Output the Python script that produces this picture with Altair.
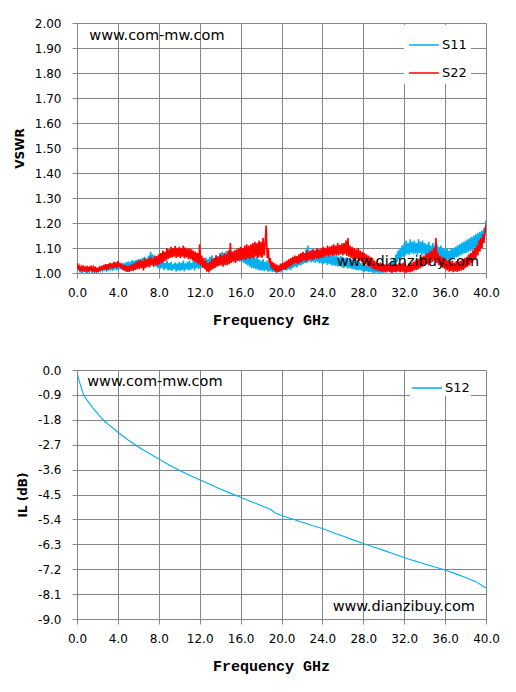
import altair as alt
import pandas as pd

# ---------------- data ----------------
x_ticks = [0, 4, 8, 12, 16, 20, 24, 28, 32, 36, 40]
vswr_ticks = [1.0, 1.1, 1.2, 1.3, 1.4, 1.5, 1.6, 1.7, 1.8, 1.9, 2.0]
il_ticks = [0.0, -0.9, -1.8, -2.7, -3.6, -4.5, -5.4, -6.3, -7.2, -8.1, -9.0]

# sweep points every 0.1 GHz, 0 .. 40 GHz
vswr_freq = [round(i * 0.1, 1) for i in range(401)]

s11 = [
    1.05, 1.01, 1.02, 1.005, 1.015, 1.00, 1.02, 1.01, 1.005, 1.018,
    1.00, 1.015, 1.005, 1.02, 1.01, 1.00, 1.018, 1.008, 1.012, 1.003,
    1.015, 1.005, 1.022, 1.01, 1.025, 1.008, 1.018, 1.012, 1.026, 1.01,
    1.02, 1.012, 1.03, 1.015, 1.025, 1.01, 1.03, 1.018, 1.028, 1.012,
    1.035, 1.015, 1.03, 1.02, 1.04, 1.018, 1.035, 1.025, 1.042, 1.02,
    1.045, 1.022, 1.04, 1.028, 1.05, 1.025, 1.048, 1.03, 1.052, 1.024,
    1.055, 1.03, 1.05, 1.035, 1.06, 1.028, 1.065, 1.04, 1.058, 1.032,
    1.07, 1.035, 1.085, 1.04, 1.075, 1.03, 1.065, 1.025, 1.06, 1.02,
    1.05, 1.015, 1.045, 1.02, 1.055, 1.012, 1.04, 1.018, 1.05, 1.01,
    1.04, 1.012, 1.045, 1.008, 1.035, 1.015, 1.042, 1.005, 1.038, 1.01,
    1.045, 1.008, 1.04, 1.012, 1.05, 1.006, 1.038, 1.015, 1.045, 1.01,
    1.05, 1.012, 1.04, 1.018, 1.055, 1.01, 1.045, 1.02, 1.05, 1.015,
    1.055, 1.02, 1.06, 1.025, 1.05, 1.022, 1.062, 1.028, 1.055, 1.025,
    1.065, 1.03, 1.07, 1.035, 1.06, 1.032, 1.072, 1.04, 1.068, 1.036,
    1.08, 1.04, 1.085, 1.045, 1.075, 1.042, 1.088, 1.05, 1.08, 1.045,
    1.09, 1.048, 1.085, 1.05, 1.092, 1.045, 1.08, 1.052, 1.09, 1.046,
    1.085, 1.045, 1.09, 1.04, 1.08, 1.035, 1.075, 1.03, 1.07, 1.025,
    1.065, 1.02, 1.07, 1.018, 1.06, 1.015, 1.065, 1.012, 1.055, 1.01,
    1.05, 1.01, 1.055, 1.008, 1.045, 1.012, 1.05, 1.005, 1.04, 1.008,
    1.035, 1.003, 1.03, 1.006, 1.025, 1.00, 1.03, 1.005, 1.022, 1.002,
    1.03, 1.008, 1.035, 1.012, 1.04, 1.01, 1.038, 1.015, 1.045, 1.012,
    1.05, 1.02, 1.055, 1.025, 1.06, 1.022, 1.065, 1.03, 1.07, 1.03,
    1.075, 1.035, 1.08, 1.04, 1.095, 1.04, 1.11, 1.045, 1.09, 1.042,
    1.095, 1.045, 1.09, 1.04, 1.10, 1.045, 1.085, 1.038, 1.092, 1.04,
    1.08, 1.035, 1.085, 1.04, 1.075, 1.032, 1.08, 1.036, 1.07, 1.03,
    1.075, 1.03, 1.07, 1.028, 1.072, 1.025, 1.065, 1.03, 1.068, 1.022,
    1.065, 1.02, 1.06, 1.025, 1.062, 1.018, 1.058, 1.02, 1.055, 1.015,
    1.055, 1.015, 1.05, 1.012, 1.052, 1.01, 1.045, 1.012, 1.04, 1.008,
    1.035, 1.005, 1.03, 1.008, 1.032, 1.004, 1.028, 1.006, 1.025, 1.002,
    1.022, 1.00, 1.025, 1.003, 1.02, 1.00, 1.024, 1.002, 1.018, 1.00,
    1.025, 1.003, 1.03, 1.008, 1.035, 1.01, 1.04, 1.015, 1.05, 1.02,
    1.06, 1.03, 1.075, 1.045, 1.09, 1.055, 1.10, 1.06, 1.11, 1.065,
    1.12, 1.07, 1.13, 1.075, 1.12, 1.072, 1.135, 1.08, 1.125, 1.075,
    1.13, 1.078, 1.12, 1.072, 1.135, 1.08, 1.125, 1.07, 1.13, 1.075,
    1.12, 1.07, 1.115, 1.065, 1.125, 1.07, 1.11, 1.068, 1.12, 1.065,
    1.11, 1.062, 1.115, 1.06, 1.105, 1.058, 1.11, 1.055, 1.10, 1.052,
    1.095, 1.05, 1.10, 1.048, 1.09, 1.052, 1.098, 1.055, 1.10, 1.058,
    1.105, 1.062, 1.11, 1.065, 1.115, 1.07, 1.12, 1.075, 1.125, 1.078,
    1.13, 1.08, 1.135, 1.085, 1.14, 1.088, 1.145, 1.09, 1.15, 1.095,
    1.155, 1.10, 1.16, 1.105, 1.165, 1.11, 1.17, 1.12, 1.18, 1.15,
    1.21,
]

s22 = [
    1.04, 1.015, 1.028, 1.008, 1.025, 1.012, 1.03, 1.006, 1.022, 1.01,
    1.028, 1.005, 1.025, 1.01, 1.03, 1.004, 1.022, 1.008, 1.026, 1.003,
    1.02, 1.005, 1.025, 1.01, 1.028, 1.012, 1.032, 1.015, 1.035, 1.012,
    1.035, 1.015, 1.04, 1.02, 1.038, 1.018, 1.045, 1.022, 1.042, 1.02,
    1.048, 1.025, 1.04, 1.018, 1.035, 1.012, 1.032, 1.008, 1.03, 1.005,
    1.028, 1.005, 1.03, 1.01, 1.035, 1.008, 1.04, 1.012, 1.045, 1.015,
    1.05, 1.015, 1.055, 1.02, 1.048, 1.01, 1.06, 1.02, 1.055, 1.025,
    1.06, 1.022, 1.065, 1.03, 1.058, 1.025, 1.07, 1.032, 1.068, 1.03,
    1.075, 1.035, 1.08, 1.04, 1.09, 1.045, 1.085, 1.05, 1.10, 1.055,
    1.095, 1.06, 1.105, 1.062, 1.10, 1.065, 1.108, 1.06, 1.10, 1.065,
    1.105, 1.06, 1.10, 1.065, 1.11, 1.058, 1.102, 1.062, 1.098, 1.055,
    1.10, 1.055, 1.095, 1.05, 1.09, 1.045, 1.085, 1.04, 1.08, 1.035,
    1.115, 1.03, 1.07, 1.02, 1.06, 1.015, 1.05, 1.005, 1.04, 1.002,
    1.045, 1.01, 1.055, 1.015, 1.06, 1.02, 1.07, 1.025, 1.065, 1.028,
    1.075, 1.03, 1.07, 1.025, 1.08, 1.032, 1.075, 1.03, 1.09, 1.035,
    1.12, 1.04, 1.085, 1.045, 1.09, 1.04, 1.095, 1.048, 1.10, 1.05,
    1.105, 1.05, 1.10, 1.055, 1.11, 1.052, 1.115, 1.06, 1.11, 1.055,
    1.115, 1.06, 1.12, 1.058, 1.125, 1.065, 1.12, 1.06, 1.13, 1.065,
    1.125, 1.06, 1.14, 1.07, 1.12, 1.19, 1.06, 1.10, 1.04, 1.06,
    1.02, 1.045, 1.012, 1.04, 1.005, 1.035, 1.002, 1.03, 1.006, 1.038,
    1.01, 1.04, 1.015, 1.045, 1.012, 1.05, 1.02, 1.055, 1.025, 1.06,
    1.03, 1.065, 1.035, 1.07, 1.04, 1.068, 1.035, 1.075, 1.04, 1.08,
    1.045, 1.085, 1.05, 1.08, 1.045, 1.09, 1.05, 1.085, 1.055, 1.09,
    1.05, 1.095, 1.055, 1.09, 1.06, 1.10, 1.055, 1.095, 1.06, 1.10,
    1.06, 1.105, 1.065, 1.10, 1.07, 1.11, 1.065, 1.105, 1.07, 1.11,
    1.068, 1.115, 1.07, 1.11, 1.072, 1.12, 1.07, 1.112, 1.075, 1.118,
    1.07, 1.12, 1.075, 1.13, 1.068, 1.14, 1.065, 1.11, 1.06, 1.105,
    1.055, 1.10, 1.05, 1.095, 1.055, 1.10, 1.048, 1.09, 1.045, 1.085,
    1.04, 1.08, 1.035, 1.075, 1.03, 1.07, 1.025, 1.065, 1.02, 1.06,
    1.015, 1.05, 1.012, 1.045, 1.01, 1.04, 1.008, 1.042, 1.005, 1.038,
    1.005, 1.035, 1.002, 1.03, 1.006, 1.038, 1.003, 1.032, 1.00, 1.035,
    1.004, 1.04, 1.002, 1.035, 1.006, 1.04, 1.003, 1.038, 1.005, 1.042,
    1.002, 1.035, 1.00, 1.03, 1.004, 1.038, 1.002, 1.04, 1.006, 1.045,
    1.01, 1.05, 1.012, 1.055, 1.015, 1.06, 1.02, 1.065, 1.025, 1.07,
    1.03, 1.075, 1.035, 1.08, 1.03, 1.085, 1.04, 1.09, 1.045, 1.10,
    1.05, 1.14, 1.04, 1.08, 1.03, 1.07, 1.025, 1.065, 1.02, 1.06,
    1.015, 1.055, 1.01, 1.05, 1.005, 1.045, 1.008, 1.05, 1.003, 1.042,
    1.006, 1.048, 1.004, 1.045, 1.008, 1.05, 1.01, 1.055, 1.012, 1.06,
    1.02, 1.065, 1.025, 1.075, 1.03, 1.08, 1.04, 1.09, 1.05, 1.10,
    1.06, 1.11, 1.07, 1.13, 1.085, 1.14, 1.10, 1.155, 1.12, 1.17,
    1.19,
]

s12_freq = [0.05, 0.3, 0.65, 1.0, 1.5, 2.0, 2.5, 3.0, 4.0, 5.0, 6.0, 7.0, 8.0, 9.0,
            10.0, 11.0, 12.0, 13.0, 14.0, 15.0, 16.0, 17.0, 18.0, 19.0, 19.3, 20.0,
            21.0, 22.0, 23.0, 24.0, 25.0, 26.0, 27.0, 28.0, 29.0, 30.0, 31.0, 32.0,
            33.0, 34.0, 35.0, 36.0, 37.0, 38.0, 39.0, 40.0]
s12_il = [-0.18, -0.5, -0.9, -1.1, -1.35, -1.57, -1.78, -1.95, -2.25, -2.53, -2.78,
          -3.0, -3.22, -3.43, -3.62, -3.8, -3.97, -4.13, -4.3, -4.45, -4.6, -4.75,
          -4.9, -5.05, -5.15, -5.26, -5.38, -5.5, -5.62, -5.73, -5.87, -6.0, -6.14,
          -6.27, -6.4, -6.52, -6.65, -6.78, -6.9, -7.01, -7.12, -7.23, -7.36, -7.5,
          -7.65, -7.88]

top_notes = ["www.com-mw.com", "www.dianzibuy.com"]
top_note_x = [1.2, 25.4]
top_note_y = [1.948, 1.044]
bot_notes = ["www.com-mw.com", "www.dianzibuy.com"]
bot_note_x = [1.0, 25.0]
bot_note_y = [-0.43, -8.57]

# ---------------- style ----------------
FONT = "DejaVu Sans"
TITLE_FONT = "Liberation Mono"
GRID = "#868686"
BLUE = "#00B0F0"
RED = "#FF0000"


def axis(values, fmt=None, title="", label_expr=None, title_font=FONT, title_size=12,
         title_pad=10, label_pad=8, title_x=None):
    kw = dict(values=values, tickCount=len(values), title=title, grid=True, gridColor=GRID,
              gridOpacity=1, gridWidth=1, domainColor=GRID, domainWidth=1, tickColor=GRID,
              tickSize=5, tickWidth=1, labelFont=FONT, labelFontSize=12, labelColor="black",
              labelPadding=label_pad, titleFont=title_font, titleFontSize=title_size,
              titleFontWeight="bold", titleColor="black", titlePadding=title_pad,
              labelFlush=False, labelOverlap=False)
    if fmt is not None:
        kw["format"] = fmt
    if label_expr is not None:
        kw["labelExpr"] = label_expr
    if title_x is not None:
        kw["titleX"] = title_x
    return alt.Axis(**kw)


def legend(lx, ly, pad, row_pad):
    return alt.Legend(orient="none", legendX=lx, legendY=ly, title=None,
                      symbolType="stroke", symbolSize=900, symbolStrokeWidth=1.5,
                      labelFont=FONT, labelFontSize=13, labelColor="black",
                      fillColor="white", padding=pad, rowPadding=row_pad, labelOffset=2)


x_axis = axis(x_ticks, fmt=".1f", title="Frequency GHz", title_font=TITLE_FONT,
              title_size=15, title_pad=14, label_pad=9, title_x=194)

# ---------------- top: VSWR ----------------
vswr_df = pd.DataFrame({
    "freq": vswr_freq + vswr_freq,
    "vswr": s11 + s22,
    "series": ["S11"] * len(s11) + ["S22"] * len(s22),
})
top_lines = alt.Chart(vswr_df).mark_line(strokeWidth=1.6, clip=True).encode(
    x=alt.X("freq:Q", scale=alt.Scale(domain=[0, 40], nice=False, zero=False), axis=x_axis),
    y=alt.Y("vswr:Q", scale=alt.Scale(domain=[1, 2], nice=False, zero=False),
            axis=axis(vswr_ticks, fmt=".2f", title="VSWR", title_pad=8, label_pad=11)),
    color=alt.Color("series:N", scale=alt.Scale(domain=["S11", "S22"], range=[BLUE, RED]),
                    legend=legend(327, 2, 4, 5)),
)
top_text = alt.Chart(pd.DataFrame({"x": top_note_x, "y": top_note_y, "t": top_notes})).mark_text(
    align="left", baseline="middle", font=FONT, fontSize=14.5, color="black"
).encode(x="x:Q", y="y:Q", text="t:N")
top = alt.layer(top_lines, top_text).properties(width=409, height=250)

# ---------------- bottom: IL ----------------
il_df = pd.DataFrame({"freq": s12_freq, "il": s12_il, "series": ["S12"] * len(s12_il)})
neg_expr = "(datum.value < 0 ? '-' : '') + format(abs(datum.value), '.1f')"
bot_line = alt.Chart(il_df).mark_line(strokeWidth=1.1).encode(
    x=alt.X("freq:Q", scale=alt.Scale(domain=[0, 40], nice=False, zero=False), axis=x_axis),
    y=alt.Y("il:Q", scale=alt.Scale(domain=[-9, 0], nice=False, zero=False),
            axis=axis(il_ticks, title="IL (dB)", label_expr=neg_expr, title_pad=8, label_pad=11)),
    color=alt.Color("series:N", scale=alt.Scale(domain=["S12"], range=[BLUE]),
                    legend=legend(333, 1, 1, 0)),
)
bot_text = alt.Chart(pd.DataFrame({"x": bot_note_x, "y": bot_note_y, "t": bot_notes})).mark_text(
    align="left", baseline="middle", font=FONT, fontSize=14.5, color="black"
).encode(x="x:Q", y="y:Q", text="t:N")
bottom = alt.layer(bot_line, bot_text).properties(width=409, height=249)

chart = alt.vconcat(top, bottom, spacing=35).resolve_scale(color="independent").resolve_legend(
    color="independent"
).properties(
    padding={"left": 4, "top": 8, "right": 5, "bottom": 5}
).configure_view(stroke=None).configure(background="white")

chart.save("out.html", embed_options={"renderer": "svg", "actions": False})
